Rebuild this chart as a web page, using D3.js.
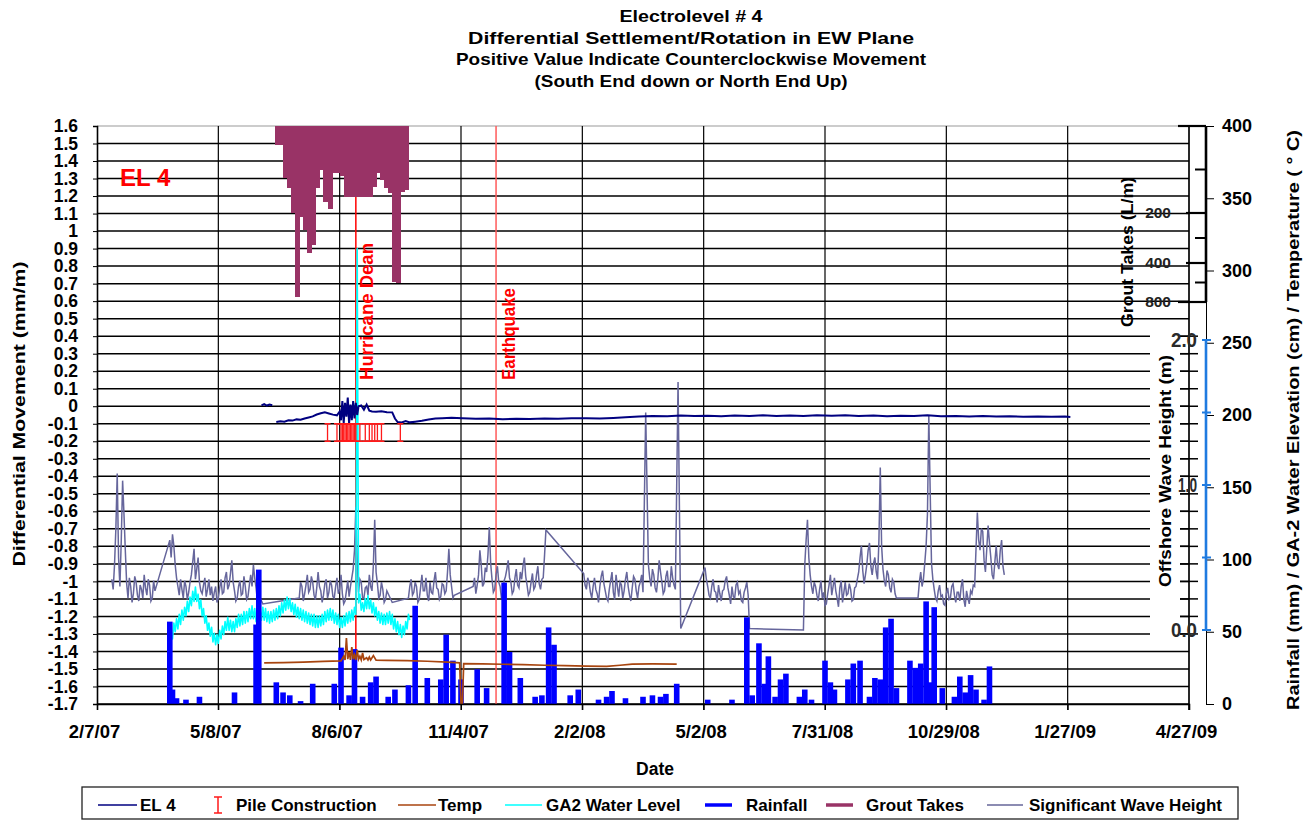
<!DOCTYPE html>
<html>
<head>
<meta charset="utf-8">
<script src="https://cdn.jsdelivr.net/npm/d3@7"></script>
<style>
  body { margin: 0; background: #fff; }
  svg text { font-family: "Liberation Sans", Arial, sans-serif; font-weight: bold; fill: #000; }
</style>
</head>
<body>
<svg id="chart" width="1311" height="821"></svg>
<script>
// ---- data ---------------------------------------------------------------
const xTickDates = ["2007-02-07","2007-05-08","2007-08-06","2007-11-04","2008-02-02",
                    "2008-05-02","2008-07-31","2008-10-29","2009-01-27","2009-04-27"];
const leftTicks = d3.range(-17, 17).map(i => i / 10);     // -1.7 .. 1.6
const rightTicks = d3.range(0, 401, 50);                  // mm / cm / deg C
const groutMajor = [0, 200, 400, 800];
const groutMinor = [100, 300, 600];
const groutLabels = [200, 400, 800];
const waveTicks = [0, 0.5, 1, 1.5, 2];
const waveLabels = [0, 1, 2];

const titleLines = ["Electrolevel # 4",
                    "Differential Settlement/Rotation in EW Plane",
                    "Positive Value Indicate Counterclockwise Movement",
                    "(South End down or North End Up)"];

const events = [["2007-08-18", "Hurricane Dean"], ["2007-11-30", "Earthquake"]];

// EL 4 differential movement (mm/m); null = gap in record
const el4 = [
  ["2007-06-09",0.005],["2007-06-11",0.012],["2007-06-13",0.004],["2007-06-15",0.010],["2007-06-17",0.006],
  ["2007-06-18",null],
  ["2007-06-20",-0.090],["2007-06-23",-0.086],["2007-06-26",-0.088],["2007-06-29",-0.080],["2007-07-02",-0.082],
  ["2007-07-05",-0.075],["2007-07-08",-0.077],["2007-07-11",-0.070],["2007-07-14",-0.064],["2007-07-17",-0.058],
  ["2007-07-20",-0.047],["2007-07-23",-0.040],["2007-07-26",-0.035],["2007-07-29",-0.041],["2007-08-01",-0.048],
  ["2007-08-04",-0.052],["2007-08-06",-0.030],["2007-08-07",-0.080],["2007-08-08",0.030],["2007-08-09",-0.095],
  ["2007-08-10",0.020],["2007-08-11",-0.060],["2007-08-12",0.050],["2007-08-13",-0.100],["2007-08-14",0.010],
  ["2007-08-15",-0.080],["2007-08-16",0.030],["2007-08-17",-0.070],["2007-08-18",0.020],["2007-08-19",-0.050],
  ["2007-08-20",0.000],["2007-08-22",0.005],["2007-08-24",-0.020],["2007-08-26",0.010],["2007-08-28",-0.025],
  ["2007-08-30",-0.030],["2007-09-02",-0.032],["2007-09-06",-0.029],["2007-09-10",-0.034],["2007-09-14",-0.035],
  ["2007-09-16",-0.070],["2007-09-18",-0.090],["2007-09-21",-0.093],["2007-09-24",-0.085],["2007-09-27",-0.092],
  ["2007-10-01",-0.088],["2007-10-06",-0.083],["2007-10-11",-0.076],["2007-10-16",-0.070],["2007-10-21",-0.068],
  ["2007-10-28",-0.066],["2007-11-05",-0.069],["2007-11-15",-0.072],["2007-11-25",-0.070],["2007-12-05",-0.074],
  ["2007-12-15",-0.071],["2007-12-25",-0.073],["2008-01-05",-0.070],["2008-01-15",-0.072],["2008-01-25",-0.069],
  ["2008-02-05",-0.068],["2008-02-15",-0.070],["2008-02-25",-0.067],["2008-03-05",-0.063],["2008-03-15",-0.058],
  ["2008-03-25",-0.055],["2008-04-05",-0.057],["2008-04-15",-0.053],["2008-04-25",-0.056],["2008-05-05",-0.054],
  ["2008-05-15",-0.057],["2008-05-25",-0.053],["2008-06-05",-0.056],["2008-06-15",-0.052],["2008-06-25",-0.055],
  ["2008-07-05",-0.053],["2008-07-15",-0.056],["2008-07-25",-0.052],["2008-08-05",-0.054],["2008-08-15",-0.051],
  ["2008-08-25",-0.055],["2008-09-05",-0.053],["2008-09-15",-0.057],["2008-09-25",-0.054],["2008-10-05",-0.056],
  ["2008-10-15",-0.052],["2008-10-25",-0.057],["2008-11-05",-0.055],["2008-11-15",-0.058],["2008-11-25",-0.056],
  ["2008-12-05",-0.059],["2008-12-15",-0.057],["2008-12-25",-0.060],["2009-01-05",-0.058],["2009-01-15",-0.060],
  ["2009-01-25",-0.059],["2009-01-29",-0.061]
];

// pile construction days (bar from -0.2 to -0.1)
const pileDates = ["2007-07-28","2007-08-04","2007-08-07","2007-08-08","2007-08-09","2007-08-10","2007-08-11",
  "2007-08-12","2007-08-13","2007-08-14","2007-08-15","2007-08-16","2007-08-17","2007-08-18","2007-08-21",
  "2007-08-25","2007-08-28","2007-08-30","2007-09-01","2007-09-03","2007-09-06","2007-09-20"];
const pileRange = [-0.2, -0.1];

// temperature (deg C)
const temp = [
  ["2007-06-11",28.4],["2007-06-25",28.7],["2007-07-10",29.0],["2007-07-25",29.5],["2007-08-07",29.8],
  ["2007-08-09",33.0],["2007-08-10",30.5],["2007-08-11",45.7],["2007-08-12",31.0],["2007-08-13",36.0],
  ["2007-08-14",30.5],["2007-08-15",39.4],["2007-08-16",31.0],["2007-08-17",34.0],["2007-08-18",30.5],
  ["2007-08-19",37.4],["2007-08-20",31.0],["2007-08-21",33.0],["2007-08-22",30.5],["2007-08-23",35.3],
  ["2007-08-24",30.8],["2007-08-26",32.0],["2007-08-27",30.5],["2007-08-28",32.5],["2007-08-29",30.5],
  ["2007-08-31",33.5],["2007-09-02",30.3],["2007-09-10",30.2],["2007-09-25",30.0],["2007-10-10",29.6],
  ["2007-10-25",29.0],["2007-11-03",28.5],["2007-11-04",0],["2007-11-05",0],["2007-11-06",27.9],
  ["2007-11-20",27.8],["2007-12-05",27.5],["2007-12-20",27.2],["2008-01-05",26.8],["2008-01-20",26.5],
  ["2008-02-05",26.2],["2008-02-20",26.0],["2008-03-01",26.8],["2008-03-10",27.6],["2008-03-25",27.7],
  ["2008-04-12",27.6]
];

// GA-2 water elevation (cm), daily readings from 2007-04-01 (tidal high / low)
const waterStart = "2007-04-01", WATER_STEP = 1;
const waterLevel = [
  54,44,50,45,56,50,59,52,62,55,65,58,67,61,71,64,74,68,78,71,81,71,76,66,72,61,66,56,61,51,
  56,47,53,43,49,41,48,42,51,45,54,48,57,51,60,51,58,50,57,50,59,53,62,54,62,55,64,56,64,57,
  66,59,68,59,66,57,64,57,65,58,67,58,66,57,64,56,64,57,65,58,66,59,68,61,70,63,72,65,74,66,
  73,64,70,62,69,60,67,59,66,58,65,57,64,56,63,55,62,54,62,53,61,53,61,54,62,55,64,57,65,58,
  66,58,65,56,63,55,62,53,60,53,61,54,63,56,64,57,65,58,67,62,315,70,76,65,70,64,73,66,75,66,
  72,63,70,61,67,58,64,56,63,55,62,55,63,56,64,55,62,52,59,50,57,48,55,46,54,48,57,52,62,58];

// rainfall (mm)
const rain = [
  ["2007-04-02",57],["2007-04-04",10],["2007-04-07",4],["2007-04-14",3],["2007-04-24",5],["2007-05-20",8],
  ["2007-06-05",55],["2007-06-07",93],["2007-06-20",15],["2007-06-25",8],["2007-06-30",6],["2007-07-08",2],
  ["2007-07-17",14],["2007-08-02",14],["2007-08-07",39],["2007-08-13",6],["2007-08-17",38],["2007-08-23",5],
  ["2007-08-29",15],["2007-09-02",19],["2007-09-11",5],["2007-09-16",10],["2007-09-26",13],["2007-10-01",68],
  ["2007-10-10",18],["2007-10-20",17],["2007-10-24",48],["2007-10-29",30],["2007-11-04",17],["2007-11-16",24],
  ["2007-11-23",11],["2007-12-06",84],["2007-12-10",36],["2007-12-18",18],["2007-12-29",5],["2008-01-03",6],
  ["2008-01-08",53],["2008-01-12",41],["2008-01-24",6],["2008-01-30",10],["2008-02-14",3],["2008-02-20",5],
  ["2008-02-24",9],["2008-03-05",4],["2008-03-18",5],["2008-03-25",6],["2008-03-31",5],["2008-04-04",7],
  ["2008-04-12",14],["2008-05-05",3],["2008-05-23",3],["2008-06-03",60],["2008-06-07",6],["2008-06-12",42],
  ["2008-06-16",14],["2008-06-19",33],["2008-06-24",5],["2008-06-28",17],["2008-07-02",21],["2008-07-12",5],
  ["2008-07-16",10],["2008-07-21",3],["2008-07-31",30],["2008-08-04",15],["2008-08-07",10],["2008-08-17",17],
  ["2008-08-21",28],["2008-08-26",30],["2008-09-02",5],["2008-09-06",18],["2008-09-10",17],["2008-09-14",53],
  ["2008-09-18",59],["2008-09-22",11],["2008-10-02",30],["2008-10-06",25],["2008-10-10",28],["2008-10-14",71],
  ["2008-10-17",15],["2008-10-20",67],["2008-10-26",11],["2008-11-04",5],["2008-11-08",19],["2008-11-12",8],
  ["2008-11-16",20],["2008-11-20",10],["2008-11-26",3],["2008-11-30",26]
];

// grout takes (L/m), one bar per 3-day period
const GROUT_DAYS = 3;
const groutDates = ["2007-06-19","2007-06-22","2007-06-25","2007-06-28","2007-07-01","2007-07-04","2007-07-07",
  "2007-07-10","2007-07-13","2007-07-16","2007-07-19","2007-07-22","2007-07-25","2007-07-28","2007-07-31",
  "2007-08-03","2007-08-06","2007-08-09","2007-08-12","2007-08-15","2007-08-18","2007-08-21","2007-08-24",
  "2007-08-27","2007-08-30","2007-09-02","2007-09-05","2007-09-08","2007-09-11","2007-09-14","2007-09-17",
  "2007-09-20","2007-09-23"];
const groutTakes = [44,44,120,143,200,750,216,268,360,328,143,101,175,191,108,108,115,163,163,163,163,163,
  163,163,140,108,124,143,154,590,605,152,147];

// significant wave height (m): [first reading, daily readings]
const WAVE_STEP = 1;
const waveSegments = [
  ["2007-02-18",[0.35,0.28,0.45,0.70,1.08,0.50,0.30,0.62,1.03,0.80,0.55,0.32,0.22,0.36,0.30,0.19,0.25,0.37,
                 0.33,0.24,0.20,0.31,0.28,0.22,0.38,0.29,0.24,0.35,0.31,0.20,0.22,0.34,0.27]],
  ["2007-04-02",[0.62,0.50,0.66,0.58,0.45,0.36,0.30,0.24,0.35,0.28,0.22,0.34,0.30,0.21,0.26,0.33,0.38,0.47,
                 0.56,0.35,0.42,0.50,0.33,0.27,0.25,0.31,0.36,0.23,0.28,0.35,0.24,0.30,0.20,0.26,0.30,0.19,
                 0.22,0.29,0.35,0.25,0.26,0.36,0.40,0.28,0.31,0.39,0.48,0.33,0.27,0.20,0.22,0.30,0.34,0.24,
                 0.25,0.37,0.30,0.21,0.23,0.31,0.38,0.30,0.45,0.36,0.29,0.20,0.24]],
  ["2007-06-10",[0.18]],
  ["2007-07-07",[0.22,0.33,0.30,0.20,0.25,0.31,0.38,0.26,0.28,0.37,0.33,0.24,0.21,0.29,0.40,0.30,0.27,0.19,
                 0.24,0.32,0.35,0.22,0.26,0.34,0.31,0.23,0.22,0.30,0.36,0.25,0.28,0.38,0.25,0.18,0.20,0.27,
                 0.34,0.23,0.30,0.36,0.42,0.55,0.85,0.48,0.26,0.35,0.33,0.22,0.22,0.29,0.30,0.24,0.38,0.30,
                 0.27,0.45,0.76,0.40,0.32,0.22,0.24,0.33,0.28,0.19,0.21,0.27,0.25]],
  ["2007-09-14",[0.19]],
  ["2007-09-26",[0.22,0.30,0.35,0.24,0.26,0.33,0.30,0.19,0.21,0.29,0.38,0.27,0.27,0.36,0.24,0.20,0.33,0.26,
                 0.25,0.34,0.40,0.29,0.28,0.21,0.23,0.32,0.31,0.25,0.27,0.40,0.56,0.38,0.30,0.22,0.24]],
  ["2007-11-13",[0.30,0.36,0.25,0.31,0.38,0.55,0.45,0.30,0.32,0.43,0.40,0.52,0.71,0.46,0.35,0.26,0.28,0.38,
                 0.44,0.33,0.30,0.22,0.26,0.34,0.37,0.42,0.48,0.36,0.33,0.25,0.27,0.36,0.42,0.31,0.29,0.40,
                 0.35,0.44,0.50,0.37,0.31,0.24,0.26,0.33,0.39,0.28,0.30,0.38,0.44,0.32,0.28,0.35,0.36,0.52,
                 0.69]],
  ["2008-02-03",[0.39,0.31,0.28,0.36,0.33,0.26,0.22,0.30,0.36,0.28,0.25,0.19,0.30,0.37,0.41,0.32,0.27,0.22,
                 0.20,0.28,0.34,0.40,0.26,0.21,0.38,0.30,0.23,0.33,0.31,0.22,0.27,0.35,0.40,0.30,0.24,0.20,
                 0.29,0.37,0.35,0.27,0.22,0.30,0.33,0.38,0.26]],
  ["2008-03-20",[1.50]],
  ["2008-03-22",[0.45,0.36,0.30,0.42,0.38,0.29,0.26,0.35,0.48,0.40,0.33,0.25,0.27,0.37,0.41,0.30,0.30,0.44,
                 0.36,0.31,0.28]],
  ["2008-04-13",[1.71]],
  ["2008-04-15",[0.01]],
  ["2008-05-03",[0.43,0.35,0.30,0.24,0.22,0.30,0.35,0.27,0.26,0.19,0.31,0.25,0.20,0.27,0.28,0.34,0.37,0.29,
                 0.24,0.18,0.30,0.23,0.22,0.31,0.33,0.25,0.27,0.20,0.19,0.26,0.29,0.33,0.24]],
  ["2008-06-05",[0.01]],
  ["2008-07-15",[0.00]],
  ["2008-07-16",[0.45,0.62,0.76,0.50,0.38,0.30,0.25,0.33,0.30,0.24,0.20,0.28,0.34,0.22,0.26,0.17,0.18,0.25,
                 0.31,0.38,0.24,0.30,0.36,0.27,0.22,0.16,0.29,0.34,0.19,0.26,0.33,0.24,0.25,0.32,0.28,0.20,
                 0.21,0.29,0.30]],
  ["2008-08-25",[0.40,0.50,0.58,0.41,0.32,0.38,0.45,0.55,0.60,0.44,0.38,0.46,0.50,0.40,0.35,0.62,1.12,0.58,
                 0.42,0.34,0.30,0.41,0.38,0.29,0.26,0.35,0.33,0.25,0.22]],
  ["2008-10-08",[0.22,0.33,0.40,0.30,0.35,0.46,0.58,0.80,1.48]],
  ["2008-10-18",[0.46,0.35,0.28,0.22,0.20,0.27,0.31,0.23,0.24,0.18,0.17,0.25,0.29,0.21,0.22,0.30,0.32,0.24,
                 0.19,0.26,0.26,0.20,0.30,0.35,0.21,0.16,0.27,0.22,0.18,0.27,0.25,0.31,0.30]],
  ["2008-11-21",[0.81,0.62,0.55,0.70,0.68,0.48,0.40,0.56,0.72,0.60,0.50,0.38,0.35,0.47,0.58,0.45,0.42,0.55,
                 0.62,0.44,0.38]]
];

// ---- scales -------------------------------------------------------------
const parse = d3.utcParse("%Y-%m-%d");
const svg = d3.select("#chart");

const x = d3.scaleUtc().domain([parse(xTickDates[0]), parse(xTickDates[xTickDates.length - 1])]).range([97, 1189]);
const y = d3.scaleLinear().domain([-1.7, 1.6]).range([704, 126]);
const yRight = d3.scaleLinear().domain([0, 400]).range([704, 126]);
const yWave = d3.scaleLinear().domain([0, 2]).range([630, 340]);
const yGrout = d3.scaleLinear().domain(groutMajor).range([126, 213, 263, 302]);

const [xL, xR] = x.range();
const yTop = y(1.6), yBot = y(-1.7);
const axisX = 1206;
const fmtLeft = v => d3.format(".1~f")(v).replace("\u2212", "-");

// ---- grid ---------------------------------------------------------------
svg.append("g").selectAll("line").data(leftTicks.filter(v => v < 1.55)).join("line")
  .attr("x1", xL).attr("x2", xR).attr("y1", d => y(d)).attr("y2", d => y(d))
  .attr("stroke", "#000").attr("stroke-width", 1.5);
svg.append("line").attr("x1", xL).attr("x2", xR).attr("y1", yTop).attr("y2", yTop)
  .attr("stroke", "#999").attr("stroke-width", 1);
svg.append("g").selectAll("line").data(xTickDates.slice(1)).join("line")
  .attr("x1", d => x(parse(d))).attr("x2", d => x(parse(d))).attr("y1", yTop).attr("y2", yBot + 6)
  .attr("stroke", "#000").attr("stroke-width", 1.2);

// wave-height overlay axis area
svg.append("rect").attr("x", 1150).attr("y", 328).attr("width", 30).attr("height", 312).attr("fill", "#fff");
svg.append("g").selectAll("line").data(leftTicks.filter(v => y(v) > 328 && y(v) < 640)).join("line")
  .attr("x1", 1180).attr("x2", 1198).attr("y1", d => y(d)).attr("y2", d => y(d))
  .attr("stroke", "#000").attr("stroke-width", 1.5);

// ---- event lines --------------------------------------------------------
svg.append("g").selectAll("line").data(events).join("line")
  .attr("x1", d => x(parse(d[0]))).attr("x2", d => x(parse(d[0])))
  .attr("y1", yTop).attr("y2", yBot)
  .attr("stroke", (d, i) => i === 0 ? "#ff0000" : "#ff5a5a").attr("stroke-width", 1.5);

// ---- series -------------------------------------------------------------
const wavePts = waveSegments.flatMap(([start, vals]) =>
  vals.map((v, i) => [d3.utcDay.offset(parse(start), i * WAVE_STEP), v]));
svg.append("path").datum(wavePts)
  .attr("fill", "none").attr("stroke", "#66669c").attr("stroke-width", 1.5)
  .attr("d", d3.line().x(d => x(d[0])).y(d => yWave(d[1])));

const waterPts = waterLevel.map((v, i) => [d3.utcDay.offset(parse(waterStart), i * WATER_STEP), v]);
svg.append("path").datum(waterPts)
  .attr("fill", "none").attr("stroke", "#00ffff").attr("stroke-width", 1.6).attr("stroke-linejoin", "round")
  .attr("d", d3.line().x(d => x(d[0])).y(d => yRight(d[1])));

svg.append("g").selectAll("rect").data(rain).join("rect")
  .attr("x", d => x(parse(d[0])) - 2.8).attr("width", 5.6)
  .attr("y", d => yRight(d[1])).attr("height", d => yRight(0) - yRight(d[1]))
  .attr("fill", "#0000ff");

svg.append("path").datum(temp)
  .attr("fill", "none").attr("stroke", "#a8450f").attr("stroke-width", 1.7)
  .attr("d", d3.line().x(d => x(parse(d[0]))).y(d => yRight(d[1])));

svg.append("path").datum(el4)
  .attr("fill", "none").attr("stroke", "#000080").attr("stroke-width", 2)
  .attr("d", d3.line().defined(d => d[1] !== null).x(d => x(parse(d[0]))).y(d => y(d[1])));

svg.append("g").selectAll("path").data(pileDates).join("path")
  .attr("fill", "none").attr("stroke", "#ff1a1a").attr("stroke-width", 1.3)
  .attr("d", d => {
    const px = x(parse(d)), a = y(pileRange[1]), b = y(pileRange[0]);
    return `M${px - 3},${a}H${px + 3}M${px},${a}V${b}M${px - 3},${b}H${px + 3}`;
  });

svg.append("g").attr("shape-rendering", "crispEdges")
  .selectAll("rect").data(groutDates.map((d, i) => [parse(d), groutTakes[i]])).join("rect")
  .attr("x", d => x(d[0])).attr("width", d => x(d3.utcDay.offset(d[0], GROUT_DAYS)) - x(d[0]) + 1)
  .attr("y", yGrout(0)).attr("height", d => yGrout(d[1]) - yGrout(0))
  .attr("fill", "#993366");

// ---- axes ---------------------------------------------------------------
const gLeft = svg.append("g").attr("transform", `translate(${xL},0)`)
  .call(d3.axisLeft(y).tickValues(leftTicks).tickFormat(fmtLeft).tickSize(4).tickPadding(15));
gLeft.select(".domain").attr("stroke-width", 1.6);
gLeft.selectAll("text").style("font-size", "17.5px");

const gBottom = svg.append("g").attr("transform", `translate(0,${yBot})`)
  .call(d3.axisBottom(x).tickValues(xTickDates.map(parse)).tickFormat(d3.utcFormat("%-m/%-d/%y"))
    .tickSize(6).tickPadding(15));
gBottom.select(".domain").attr("stroke-width", 1.6);
gBottom.selectAll("text").style("font-size", "18.5px").attr("x", -3);

svg.append("line").attr("x1", xR).attr("x2", xR).attr("y1", yTop).attr("y2", yBot + 6)
  .attr("stroke", "#000").attr("stroke-width", 1.2);

const gRight = svg.append("g").attr("transform", `translate(${axisX},0)`)
  .call(d3.axisRight(yRight).tickValues(rightTicks).tickSize(8).tickPadding(8));
gRight.select(".domain").attr("stroke-width", 1);
gRight.selectAll("text").style("font-size", "18px");

// grout axis (upper part of right axis)
svg.append("line").attr("x1", axisX).attr("x2", axisX).attr("y1", yGrout(0)).attr("y2", yGrout(800))
  .attr("stroke", "#000").attr("stroke-width", 2.6);
svg.append("g").selectAll("line").data(groutMajor).join("line")
  .attr("x1", d => d === 0 || d === 800 ? axisX - 28 : axisX - 20).attr("x2", axisX)
  .attr("y1", d => yGrout(d)).attr("y2", d => yGrout(d))
  .attr("stroke", "#000").attr("stroke-width", 2.2);
svg.append("g").selectAll("line").data(groutMinor).join("line")
  .attr("x1", axisX - 11).attr("x2", axisX)
  .attr("y1", d => yGrout(d)).attr("y2", d => yGrout(d))
  .attr("stroke", "#000").attr("stroke-width", 2);
svg.append("g").selectAll("text").data(groutLabels).join("text")
  .attr("x", 1171).attr("y", d => yGrout(d)).attr("dy", "0.35em").attr("text-anchor", "end")
  .style("font-size", "15.5px").style("fill", "#222").text(d => d);

// wave height axis (blue part of right axis)
svg.append("line").attr("x1", axisX).attr("x2", axisX).attr("y1", yWave(2)).attr("y2", yWave(0))
  .attr("stroke", "#1f7be0").attr("stroke-width", 2.6);
svg.append("g").selectAll("line").data(waveTicks).join("line")
  .attr("x1", axisX - 4).attr("x2", axisX + 5)
  .attr("y1", d => yWave(d)).attr("y2", d => yWave(d))
  .attr("stroke", "#1f7be0").attr("stroke-width", 2);
svg.append("g").selectAll("text").data(waveLabels).join("text")
  .attr("x", 1197).attr("y", d => yWave(d)).attr("dy", "0.36em").attr("text-anchor", "end")
  .attr("textLength", d => d === 1 ? 19 : 26).attr("lengthAdjust", "spacingAndGlyphs")
  .style("font-size", "20px").style("fill", "#2a2a2a")
  .text(d => d3.format(".1f")(d));

// ---- text ---------------------------------------------------------------
const titleWidths = [143, 446, 470, 313];
svg.append("g").selectAll("text").data(titleLines).join("text")
  .attr("x", 691).attr("y", (d, i) => 22 + i * 21.5).attr("text-anchor", "middle")
  .attr("textLength", (d, i) => titleWidths[i]).attr("lengthAdjust", "spacingAndGlyphs")
  .style("font-size", "16.5px").text(d => d);

function vText(txt, cx, cy, len, size, color) {
  return svg.append("text").attr("transform", `translate(${cx},${cy}) rotate(-90)`)
    .attr("text-anchor", "middle").attr("dominant-baseline", "central")
    .attr("textLength", len).attr("lengthAdjust", "spacingAndGlyphs")
    .style("font-size", size + "px").style("fill", color || "#000").text(txt);
}
vText("Differential Movement  (mm/m)", 19, 414, 305, 17);
vText("Rainfall (mm)  /  GA-2 Water Elevation (cm)  /  Temperature ( \u00b0 C)", 1293, 420, 580, 17);
vText("Grout Takes  (L/m)", 1127, 252, 150, 17);
vText("Offshore Wave Height (m)", 1165, 471, 232, 17);

// event labels, reading upward from y = 380
const eventLen = [137, 92];
events.forEach((e, i) => {
  vText(e[1], x(parse(e[0])) + 11 + i * 2, 380 - eventLen[i] / 2, eventLen[i], 17.5, "#ff0000");
});

svg.append("text").attr("x", 120).attr("y", 186).style("font-size", "24px").style("fill", "#ff0000").text("EL 4");
svg.append("text").attr("x", 655).attr("y", 775).attr("text-anchor", "middle").style("font-size", "17.5px").text("Date");

// ---- legend -------------------------------------------------------------
const legend = svg.append("g");
legend.append("rect").attr("x", 82).attr("y", 787).attr("width", 1156).attr("height", 32)
  .attr("fill", "#fff").attr("stroke", "#222").attr("stroke-width", 1.3);
const ly = 805;
const legendItems = [
  {label: "EL 4", color: "#000080", w: 1.6, x0: 98, x1: 137, tx: 140},
  {label: "Pile Construction", color: "#ff1a1a", bar: true, x0: 218, tx: 236},
  {label: "Temp", color: "#a8450f", w: 1.6, x0: 398, x1: 436, tx: 438},
  {label: "GA2 Water Level", color: "#00ffff", w: 1.6, x0: 505, x1: 542, tx: 546},
  {label: "Rainfall", color: "#0000ff", w: 3.5, x0: 705, x1: 732, tx: 746},
  {label: "Grout Takes", color: "#993366", w: 3.5, x0: 826, x1: 853, tx: 866},
  {label: "Significant Wave Height", color: "#666699", w: 1.4, x0: 987, x1: 1023, tx: 1029}
];
legendItems.forEach(it => {
  if (it.bar) {
    legend.append("path").attr("fill", "none").attr("stroke", it.color).attr("stroke-width", 1.5)
      .attr("d", `M${it.x0 - 4},${ly - 8}H${it.x0 + 4}M${it.x0},${ly - 8}V${ly + 8}M${it.x0 - 4},${ly + 8}H${it.x0 + 4}`);
  } else {
    legend.append("line").attr("x1", it.x0).attr("x2", it.x1).attr("y1", ly).attr("y2", ly)
      .attr("stroke", it.color).attr("stroke-width", it.w);
  }
  legend.append("text").attr("x", it.tx).attr("y", ly).attr("dy", "0.36em")
    .style("font-size", "17px").text(it.label);
});
</script>
</body>
</html>
